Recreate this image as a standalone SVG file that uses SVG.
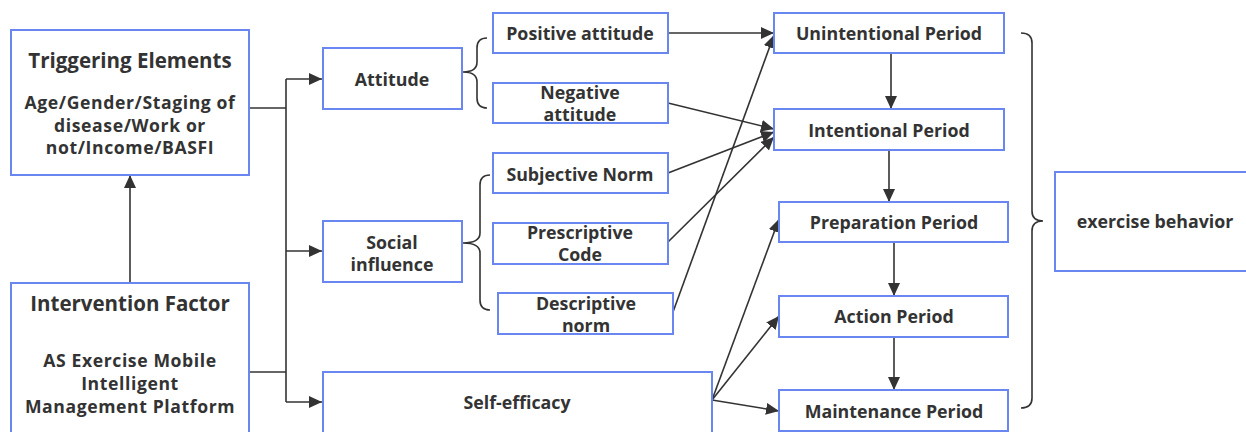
<svg xmlns="http://www.w3.org/2000/svg" width="1246" height="432" viewBox="0 0 1246 432">
<style>
.box{fill:#fff;stroke:#6a86f0;stroke-width:2}
.t{font-family:"Open Sans","Noto Sans","Liberation Sans",sans-serif;font-weight:bold;fill:#333;text-anchor:middle;dominant-baseline:central;font-size:17.8px}
.big{font-size:20.5px}
.mid{font-size:17.6px;letter-spacing:0.6px}
.c{fill:none;stroke:#333;stroke-width:1.6}
.a{marker-end:url(#ar)}
</style>
<defs>
<marker id="ar" markerUnits="userSpaceOnUse" markerWidth="14" markerHeight="12" refX="13" refY="6" orient="auto">
<path d="M0,0 L13,6 L0,12 Z" fill="#333"/>
</marker>
</defs>
<rect width="1246" height="432" fill="#fff"/>

<g id="connectors">
<path class="c" d="M249,108 H286"/>
<path class="c" d="M249,372 H286"/>
<path class="c" d="M286,79 V402"/>
<path class="c a" d="M286,79 H322"/>
<path class="c a" d="M286,251 H322"/>
<path class="c a" d="M286,402 H322"/>
<path class="c a" d="M130,283 V175"/>
<path class="c" d="M487,38 Q477,38 477,48 L477,62 Q477,72 463,72 Q477,72 477,82 L477,98 Q477,108 487,108"/>
<path class="c" d="M490,175 Q480,175 480,185 L480,233 Q480,243 463,243 Q480,243 480,253 L480,300 Q480,310 490,310"/>
<path class="c" d="M1021,33 Q1032,33 1032,43 L1032,211 Q1032,221 1043,221 Q1032,221 1032,231 L1032,398 Q1032,408 1021,408"/>
<path class="c a" d="M668,33 H774"/>
<path class="c a" d="M668,103 L774,129"/>
<path class="c a" d="M668,173 L774,132"/>
<path class="c a" d="M668,242 L774,137"/>
<path class="c a" d="M673,312 L774,35"/>
<path class="c a" d="M712,400 L779,219"/>
<path class="c a" d="M712,400 L779,316"/>
<path class="c a" d="M712,400 L779,411"/>
<path class="c a" d="M891,53 V109"/>
<path class="c a" d="M889,150 V202"/>
<path class="c a" d="M894,242 V296"/>
<path class="c a" d="M894,337 V390"/>
</g>

<g id="triggering">
<rect class="box" x="11" y="30" width="238" height="145"/>
<text class="t big" x="130" y="60">Triggering Elements</text>
<text class="t mid" x="130" y="102">Age/Gender/Staging of</text>
<text class="t mid" x="130" y="125">disease/Work or</text>
<text class="t mid" x="130" y="147">not/Income/BASFI</text>
</g>
<g id="intervention">
<rect class="box" x="11" y="283" width="238" height="160"/>
<text class="t big" x="130" y="303">Intervention Factor</text>
<text class="t mid" x="130" y="360">AS Exercise Mobile</text>
<text class="t mid" x="130" y="383">Intelligent</text>
<text class="t mid" x="130" y="406">Management Platform</text>
</g>
<g id="attitude">
<rect class="box" x="323" y="48" width="139" height="61"/>
<text class="t" x="392" y="79">Attitude</text>
</g>
<g id="social">
<rect class="box" x="323" y="221" width="139" height="61"/>
<text class="t" x="392" y="242">Social</text>
<text class="t" x="392" y="264">influence</text>
</g>
<g id="selfefficacy">
<rect class="box" x="323" y="372" width="389" height="70"/>
<text class="t" x="517" y="402">Self-efficacy</text>
</g>
<g id="positive">
<rect class="box" x="493" y="13" width="175" height="40"/>
<text class="t" x="580" y="33">Positive attitude</text>
</g>
<g id="negative">
<rect class="box" x="493" y="83" width="175" height="40"/>
<text class="t" x="580" y="92">Negative</text>
<text class="t" x="580" y="114">attitude</text>
</g>
<g id="subjective">
<rect class="box" x="493" y="153" width="175" height="40"/>
<text class="t" x="580" y="174">Subjective Norm</text>
</g>
<g id="prescriptive">
<rect class="box" x="493" y="223" width="175" height="41"/>
<text class="t" x="580" y="232">Prescriptive</text>
<text class="t" x="580" y="254">Code</text>
</g>
<g id="descriptive">
<rect class="box" x="498" y="293" width="175" height="41"/>
<text class="t" x="586" y="303">Descriptive</text>
<text class="t" x="586" y="325">norm</text>
</g>
<g id="unintentional">
<rect class="box" x="774" y="13" width="230" height="40"/>
<text class="t" x="889" y="33">Unintentional Period</text>
</g>
<g id="intentional">
<rect class="box" x="774" y="109" width="230" height="41"/>
<text class="t" x="889" y="130">Intentional Period</text>
</g>
<g id="preparation">
<rect class="box" x="779" y="202" width="229" height="40"/>
<text class="t" x="894" y="222">Preparation Period</text>
</g>
<g id="action">
<rect class="box" x="779" y="296" width="229" height="41"/>
<text class="t" x="894" y="316">Action Period</text>
</g>
<g id="maintenance">
<rect class="box" x="779" y="390" width="229" height="41"/>
<text class="t" x="894" y="411">Maintenance Period</text>
</g>
<g id="exercise">
<rect class="box" x="1055" y="172" width="200" height="99"/>
<text class="t" x="1155" y="221">exercise behavior</text>
</g>
</svg>
